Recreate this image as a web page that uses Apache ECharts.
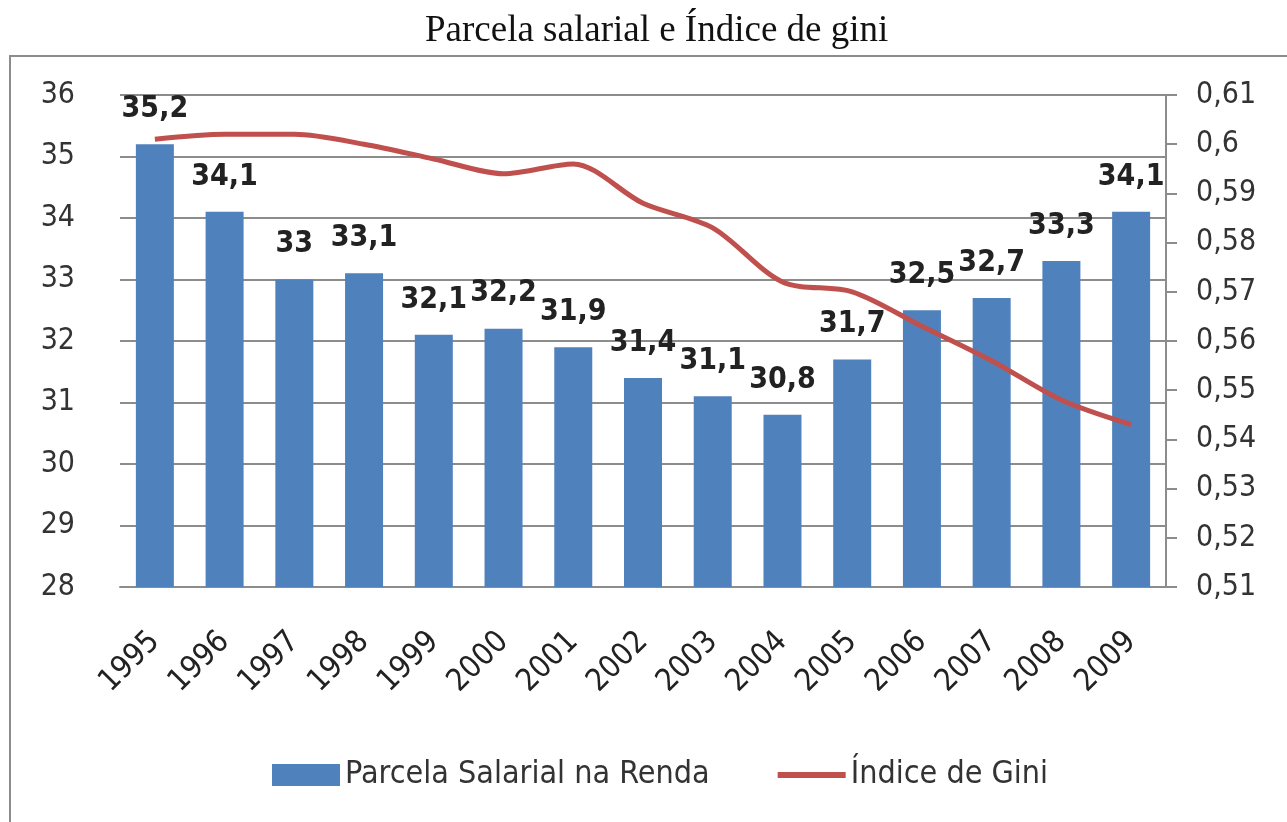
<!DOCTYPE html>
<html>
<head>
<meta charset="utf-8">
<script src="https://cdn.jsdelivr.net/npm/echarts@6/dist/echarts.min.js"></script>
<style>
html,body{margin:0;padding:0;background:#fff;}
#chart{width:1287px;height:822px;}
</style>
</head>
<body>
<div id="chart"></div>
<script>
const years = ['1995','1996','1997','1998','1999','2000','2001','2002','2003','2004','2005','2006','2007','2008','2009'];
const parcelaSalarial = [35.2, 34.1, 33, 33.1, 32.1, 32.2, 31.9, 31.4, 31.1, 30.8, 31.7, 32.5, 32.7, 33.3, 34.1];
const indiceGini = [0.601, 0.602, 0.602, 0.600, 0.597, 0.594, 0.596, 0.588, 0.583, 0.572, 0.570, 0.563, 0.556, 0.548, 0.543];
const leftTicks = {min: 28, max: 36, interval: 1};
const rightTicks = {min: 0.51, max: 0.61, interval: 0.01};

const sans = "'Liberation Sans Narrow', 'DejaVu Sans Condensed', 'Liberation Sans', sans-serif";
const comma = v => String(parseFloat(Number(v).toFixed(2))).replace('.', ',');

const chart = echarts.init(document.getElementById('chart'), null, {renderer: 'canvas'});
chart.setOption({
  backgroundColor: '#fff',
  animation: false,
  title: {
    text: 'Parcela salarial e Índice de gini',
    left: 420,
    top: 8,
    padding: 5,
    textStyle: {fontFamily: "'Liberation Serif', 'DejaVu Serif', serif", fontWeight: 'normal', fontSize: 37, color: '#111'}
  },
  graphic: [{
    type: 'rect', silent: true,
    shape: {x: 10, y: 56, width: 1300, height: 800},
    style: {fill: 'none', stroke: '#8c8c8c', lineWidth: 2}
  }],
  legend: {
    bottom: 26,
    left: 267,
    padding: 5,
    itemWidth: 68,
    itemHeight: 22,
    itemGap: 68,
    textStyle: {fontFamily: sans, fontSize: 32, color: '#333'},
    data: [
      {name: 'Parcela Salarial na Renda', icon: 'rect'},
      {name: 'Índice de Gini', icon: 'path://M0,0 H68 V6 H0 Z'}
    ]
  },
  grid: {left: 120, right: 121, top: 95, bottom: 235, containLabel: false},
  xAxis: {
    type: 'category',
    data: years,
    axisLine: {show: true, lineStyle: {color: '#8c8c8c', width: 2}},
    axisTick: {show: false},
    axisLabel: {rotate: 45, margin: 50, fontFamily: sans, fontSize: 31, color: '#222', interval: 0}
  },
  yAxis: [{
    type: 'value',
    min: leftTicks.min, max: leftTicks.max, interval: leftTicks.interval,
    axisLine: {show: false},
    axisTick: {show: false},
    splitLine: {show: true, lineStyle: {color: '#8c8c8c', width: 2}},
    axisLabel: {margin: 45, fontFamily: sans, fontSize: 30, color: '#333'}
  }, {
    type: 'value',
    position: 'right',
    min: rightTicks.min, max: rightTicks.max, interval: rightTicks.interval,
    axisLine: {show: true, lineStyle: {color: '#8c8c8c', width: 2}},
    axisTick: {show: true, length: 11, lineStyle: {color: '#8c8c8c', width: 2}},
    splitLine: {show: false},
    axisLabel: {margin: 30, fontFamily: sans, fontSize: 30, color: '#333', formatter: comma}
  }],
  series: [{
    name: 'Parcela Salarial na Renda',
    type: 'bar',
    data: parcelaSalarial,
    barWidth: 38,
    itemStyle: {color: '#4F81BD'},
    label: {
      show: true, position: 'top', distance: 20,
      fontFamily: sans, fontSize: 30, fontWeight: 'bold', color: '#222',
      formatter: p => comma(p.value)
    },
    z: 2
  }, {
    name: 'Índice de Gini',
    type: 'line',
    yAxisIndex: 1,
    data: indiceGini,
    smooth: 0.3,
    showSymbol: false,
    symbol: 'none',
    lineStyle: {color: '#C0504D', width: 5},
    itemStyle: {color: '#C0504D'},
    z: 3
  }]
});
</script>
</body>
</html>
